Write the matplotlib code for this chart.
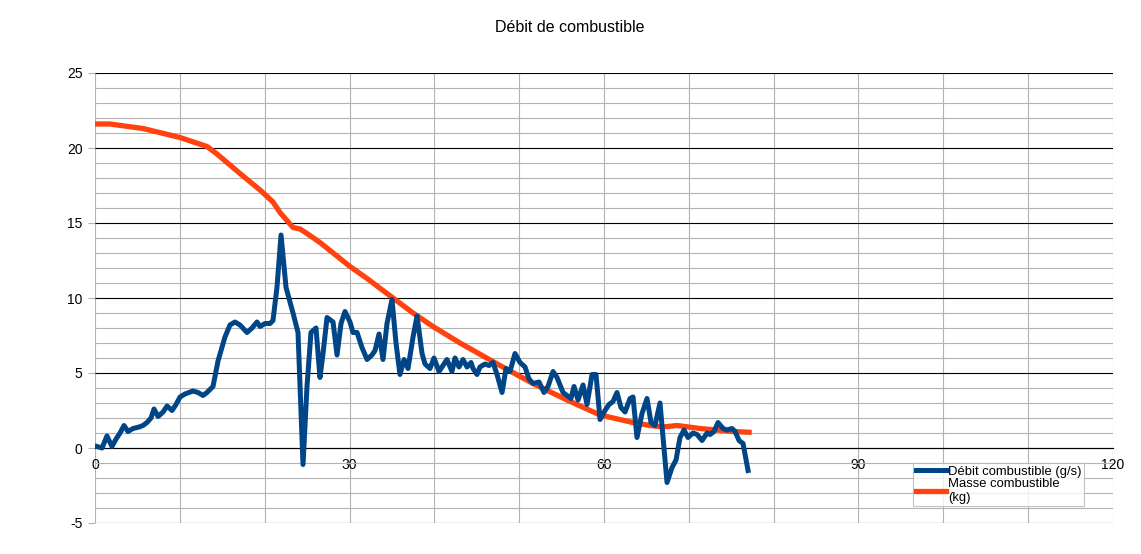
import matplotlib
matplotlib.use("Agg")
import matplotlib.pyplot as plt
from matplotlib.ticker import MultipleLocator

plt.rcParams['font.family'] = ['Liberation Sans', 'DejaVu Sans']
plt.rcParams['axes.unicode_minus'] = False

title = "Débit de combustible"
label_debit = "Débit combustible (g/s)"
label_masse = "Masse combustible\n(kg)"

# Fuel flow (g/s) over time (s)
t_debit = [0.24, 0.83, 1.41, 2.00, 2.48, 2.95, 3.42, 3.89, 4.48, 5.19, 5.66, 6.13, 6.60, 6.96,
           7.43, 8.02, 8.49, 9.08, 9.55, 10.02, 10.61, 11.08, 11.55, 12.14, 12.73, 13.20, 13.91,
           14.50, 15.32, 15.91, 16.50, 17.09, 17.92, 18.51, 19.10, 19.45, 20.04, 20.63, 20.98,
           21.45, 21.93, 22.52, 23.34, 23.93, 24.52, 24.99, 25.46, 26.05, 26.52, 26.88, 27.35,
           28.06, 28.53, 29.00, 29.47, 30.06, 30.41, 30.89, 31.47, 32.07, 32.65, 33.01, 33.48,
           33.95, 34.42, 35.01, 35.48, 35.95, 36.43, 36.90, 37.49, 37.96, 38.55, 38.90, 39.49,
           39.96, 40.55, 41.02, 41.49, 42.08, 42.44, 42.91, 43.38, 43.85, 44.32, 44.56, 45.03,
           45.38, 45.97, 46.45, 46.92, 47.39, 47.98, 48.45, 48.92, 49.51, 50.10, 50.69, 51.16,
           51.63, 52.34, 52.93, 53.40, 53.99, 54.46, 55.17, 55.64, 56.11, 56.47, 56.94, 57.53,
           58.00, 58.59, 59.06, 59.53, 60.12, 60.59, 61.06, 61.53, 62.00, 62.48, 63.07, 63.42,
           63.89, 64.48, 65.07, 65.54, 66.01, 66.60, 67.43, 68.02, 68.49, 68.96, 69.43, 69.90,
           70.49, 70.97, 71.56, 72.15, 72.50, 72.97, 73.44, 74.03, 74.50, 75.09, 75.45, 75.92,
           76.39, 76.98]
debit = [0.1, 0.0, 0.8, 0.1, 0.6, 1.0, 1.5, 1.1, 1.3, 1.4, 1.5, 1.7, 2.0, 2.6,
         2.1, 2.4, 2.8, 2.5, 2.9, 3.4, 3.6, 3.7, 3.8, 3.7, 3.5, 3.7, 4.1,
         5.8, 7.4, 8.2, 8.4, 8.2, 7.7, 8.0, 8.4, 8.1, 8.3, 8.3, 8.5,
         10.7, 14.2, 10.7, 9.0, 7.7, -1.1, 4.1, 7.7, 8.0, 4.7, 6.3, 8.7,
         8.4, 6.2, 8.3, 9.1, 8.4, 7.7, 7.7, 6.7, 5.9, 6.2, 6.5, 7.6,
         5.9, 8.3, 9.9, 7.0, 4.9, 5.9, 5.3, 7.4, 8.8, 6.3, 5.6, 5.3,
         6.0, 5.1, 5.5, 5.9, 5.1, 6.0, 5.4, 5.9, 5.4, 5.7, 5.3, 4.9,
         5.4, 5.6, 5.5, 5.7, 4.9, 3.7, 5.3, 5.1, 6.3, 5.7, 5.4, 4.6,
         4.3, 4.4, 3.7, 4.1, 5.1, 4.7, 3.7, 3.5, 3.3, 4.1, 3.2, 4.2,
         2.9, 4.9, 4.9, 1.9, 2.5, 2.9, 3.1, 3.7, 2.7, 2.4, 3.3, 3.4,
         0.7, 2.3, 3.3, 1.7, 1.5, 3.0, -2.3, -1.3, -0.8, 0.7, 1.2, 0.7,
         1.0, 0.9, 0.5, 1.0, 0.9, 1.1, 1.7, 1.3, 1.2, 1.3, 1.1, 0.5,
         0.3, -1.5]

# Fuel mass (kg) over time (s)
t_masse = [0.0, 1.77, 5.66, 10.02, 13.20, 14.38, 17.09, 19.45, 20.98, 21.81, 23.34, 24.17,
           24.99, 26.52, 30.06, 32.07, 33.95, 35.13, 37.49, 39.84, 43.03, 47.74, 51.63,
           55.64, 59.53, 63.42, 65.42, 66.96, 68.61, 71.32, 75.21, 77.10]
masse = [21.6, 21.6, 21.3, 20.7, 20.1, 19.6, 18.3, 17.2, 16.4, 15.7, 14.7, 14.6,
         14.3, 13.7, 12.1, 11.3, 10.5, 10.0, 9.0, 8.1, 7.0, 5.5, 4.3,
         3.2, 2.2, 1.7, 1.5, 1.4, 1.5, 1.3, 1.1, 1.05]

W, H = 1141, 554
fig = plt.figure(figsize=(W / 100, H / 100), dpi=100)
ax = fig.add_axes([95 / W, 1 - 523 / H, (1113 - 95) / W, (523 - 73) / H])

ax.set_xlim(0, 120)
ax.set_ylim(-5, 25)

ax.xaxis.set_major_locator(MultipleLocator(30))
ax.xaxis.set_minor_locator(MultipleLocator(10))
ax.yaxis.set_major_locator(MultipleLocator(5))
ax.yaxis.set_minor_locator(MultipleLocator(1))

ax.grid(True, axis='y', which='minor', color='#b3b3b3', linewidth=0.8)
ax.grid(True, axis='y', which='major', color='black', linewidth=0.8)
ax.grid(True, axis='x', which='both', color='#b3b3b3', linewidth=0.8)
ax.set_axisbelow(True)

for s in ['top', 'right', 'left']:
    ax.spines[s].set_visible(False)
ax.spines['bottom'].set_position(('data', 0))
ax.spines['bottom'].set_color('black')
ax.spines['bottom'].set_linewidth(0.8)

ax.tick_params(axis='x', which='both', length=0, pad=7, labelsize=10)
ax.tick_params(axis='y', which='major', length=5, color='#b3b3b3', pad=4, labelsize=10)
ax.tick_params(axis='y', which='minor', length=0)

ax.plot(t_masse, masse, color='#ff420e', linewidth=3.8, solid_joinstyle='round',
        label=label_masse, zorder=3)
ax.plot(t_debit, debit, color='#004586', linewidth=3.6, solid_joinstyle='round',
        label=label_debit, zorder=4)

fig.text(570 / W, 1 - 28 / H, title, ha='center', va='center', fontsize=11.5)

handles, labels = ax.get_legend_handles_labels()
leg = fig.legend(handles[::-1], labels[::-1], loc='upper left',
                 bbox_to_anchor=(913 / W, 1 - 463 / H), bbox_transform=fig.transFigure,
                 borderaxespad=0, fontsize=9.4, frameon=True, fancybox=False,
                 edgecolor='#b3b3b3', handlelength=2.3, handletextpad=0.2,
                 labelspacing=0.0, borderpad=0.2)
leg.get_frame().set_linewidth(0.8)

fig.savefig('out.png', dpi=100)
